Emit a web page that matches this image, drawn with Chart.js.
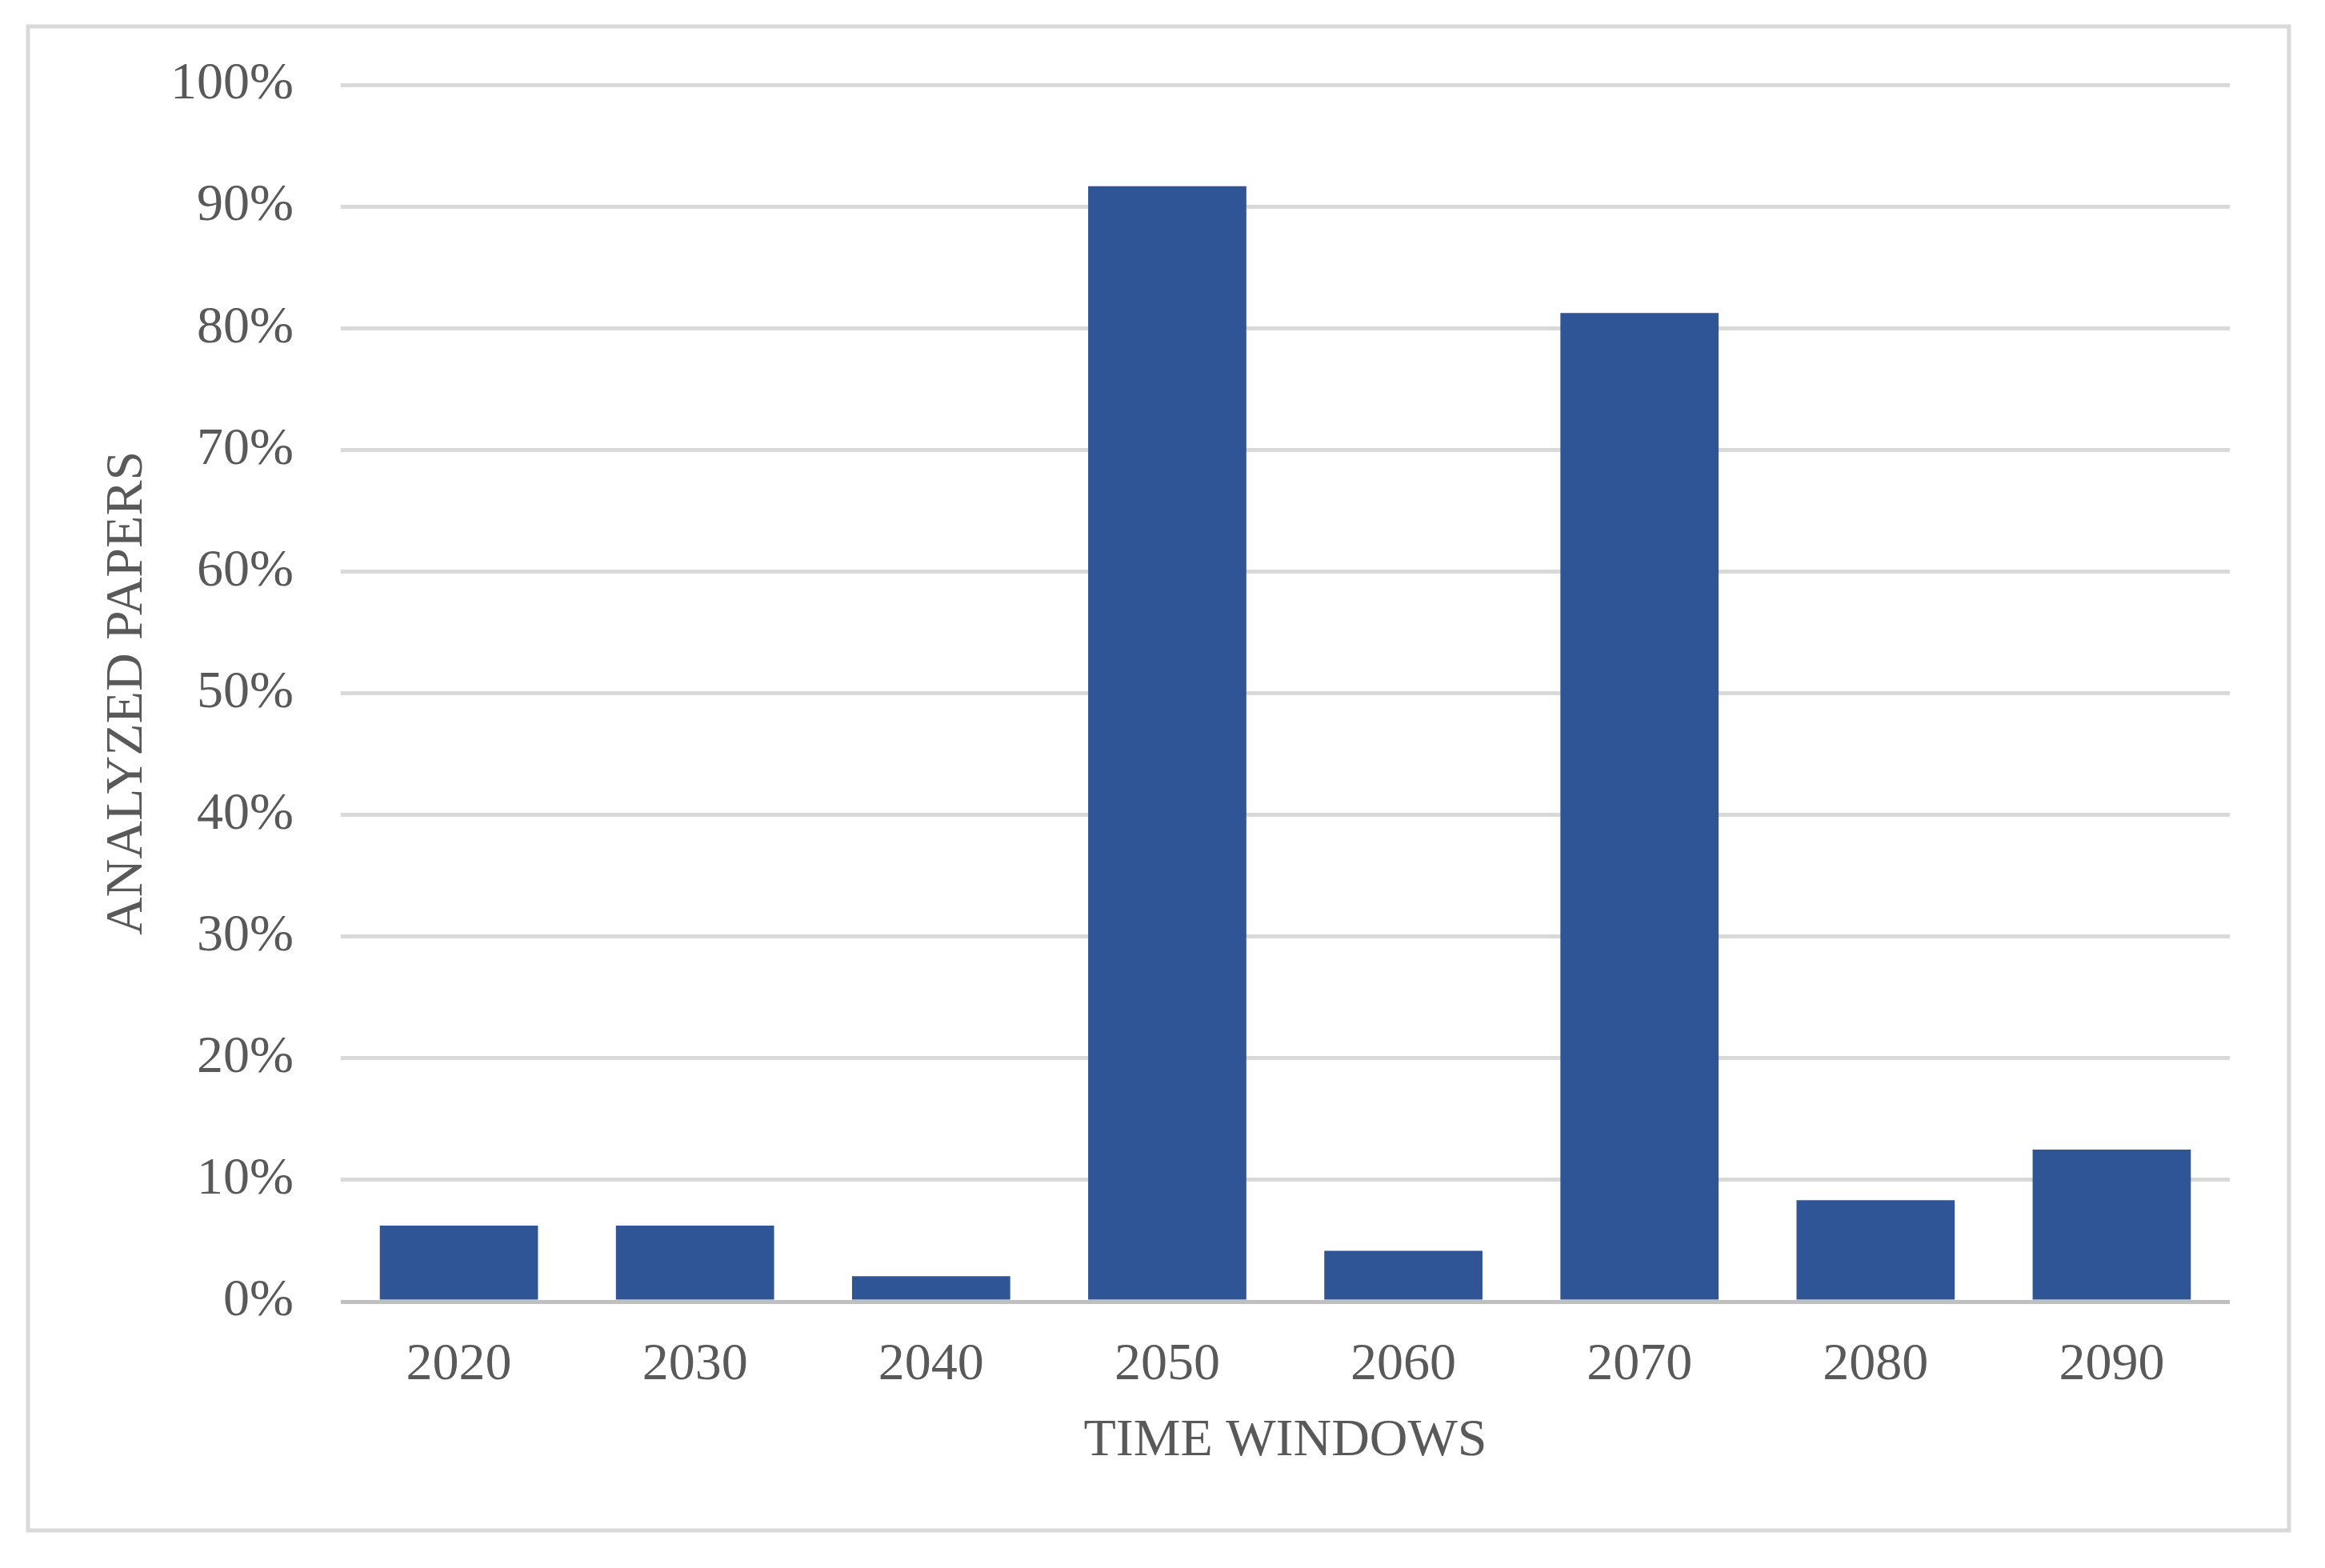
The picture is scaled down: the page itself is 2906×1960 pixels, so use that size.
<!DOCTYPE html>
<html>
<head>
<meta charset="utf-8">
<script src="https://cdn.jsdelivr.net/npm/chart.js@4/dist/chart.umd.min.js"></script>
<style>
  html, body { margin: 0; padding: 0; background: #fff; }
  #wrap { width: 2906px; height: 1960px; }
</style>
</head>
<body>
<div id="wrap"><canvas id="myChart"></canvas></div>
<script>
// data (share of analyzed papers per time window, %)
const years = ['2020', '2030', '2040', '2050', '2060', '2070', '2080', '2090'];
const papers = [6.25, 6.25, 2.08, 91.67, 4.17, 81.25, 8.33, 12.5];
const yTicks = [0, 10, 20, 30, 40, 50, 60, 70, 80, 90, 100];

const textColor = '#595959';
const serif = '"Liberation Serif", "Times New Roman", serif';

// grey frame round the whole picture
const frame = {
  id: 'frame',
  beforeDraw(chart) {
    let c = chart.ctx;
    c.save();
    c.fillStyle = '#fff';
    c.fillRect(0, 0, chart.width, chart.height);
    c.strokeStyle = '#d9d9d9';
    c.lineWidth = 5;
    c.strokeRect(35, 33, 2826, 1880);
    c.restore();
  }
};

let ctx = document.getElementById('myChart').getContext('2d');
new Chart(ctx, {
  type: 'bar',
  data: {
    labels: years,
    datasets: [{
      label: 'Analyzed papers',
      data: papers,
      backgroundColor: '#2f5597',
      borderWidth: 0,
      categoryPercentage: 1,
      barPercentage: 0.67
    }]
  },
  options: {
    responsive: true,
    maintainAspectRatio: false,
    animation: false,
    devicePixelRatio: 1,
    layout: { padding: { left: 120, right: 119, top: 106, bottom: 119 } },
    plugins: {
      legend: { display: false },
      tooltip: { enabled: false }
    },
    scales: {
      x: {
        afterFit: (scale) => { scale.height = 214; },
        grid: { display: false, drawTicks: false },
        border: { display: false },
        ticks: { color: textColor, font: { family: serif, size: 66 }, padding: 40, maxRotation: 0 },
        title: {
          display: true,
          text: 'TIME WINDOWS',
          color: textColor,
          font: { family: serif, size: 66 },
          padding: 0
        }
      },
      y: {
        min: 0,
        max: 100,
        afterBuildTicks: (scale) => { scale.ticks = yTicks.map(v => ({ value: v })); },
        afterFit: (scale) => { scale.width = 306; },
        grid: {
          drawTicks: false,
          lineWidth: 5,
          color: (c) => c.tick && c.tick.value === 0 ? '#bfbfbf' : '#d9d9d9'
        },
        border: { display: false },
        ticks: {
          color: textColor,
          font: { family: serif, size: 66 },
          padding: 59,
          callback: (v) => v + '%'
        },
        title: {
          display: true,
          text: 'ANALYZED PAPERS',
          color: textColor,
          font: { family: serif, size: 66 },
          padding: 0
        }
      }
    }
  },
  plugins: [frame]
});
</script>
</body>
</html>
